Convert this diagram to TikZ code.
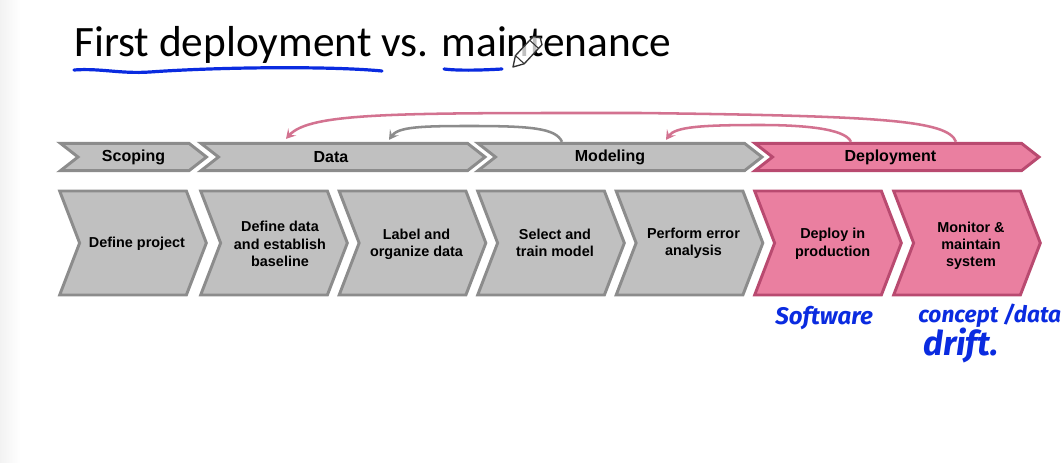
\documentclass[tikz,border=0pt]{standalone}
\usepackage{fontspec}
\setmainfont{Liberation Sans}
\newfontfamily\titlefont{Carlito}
\newfontfamily\handfont{Fira Sans}
\usetikzlibrary{arrows.meta, calc, shapes.symbols}
\definecolor{grayfill}{HTML}{c0c0c0}
\definecolor{grayline}{HTML}{8c8c8c}
\definecolor{pinkfill}{HTML}{ea7fa0}
\definecolor{pinkline}{HTML}{b94a70}
\definecolor{inkblue}{HTML}{0a2be0}

\begin{document}
\begin{tikzpicture}[x=0.75pt,y=-0.75pt,
    band/.style={signal, signal from=west, signal to=east, signal pointer angle=76, draw=grayline, fill=grayfill, line width=2.2pt, minimum height=20.5pt, inner sep=0pt, font=\fontsize{12}{14}\bfseries},
    stage/.style={signal, signal from=west, signal to=east, signal pointer angle=138, draw=grayline, fill=grayfill, line width=2.2pt, minimum height=78pt, inner sep=0pt, minimum width=110pt},
    deploy/.style={draw=pinkline, fill=pinkfill},
    bandtext/.style={font=\fontsize{12}{14}\bfseries},
    caption/.style={align=center, font=\fontsize{10.8}{13}\bfseries},
    back/.style={line width=1.9pt, -{Stealth[length=7pt,width=8pt,inset=3pt]}},
    hand/.style={inkblue, anchor=base west, inner sep=0pt, font=\handfont\bfseries\itshape\fontsize{18}{20}\selectfont},
    stroke/.style={inkblue, line width=2.4pt, line cap=round}]
    \useasboundingbox (0,0) rectangle (1064,463);
    \fill[white] (0,0) rectangle (1064,463);
    \shade[left color=black!5, right color=white] (0,0) rectangle (20,463);

    \node[font=\titlefont\fontsize{32.5}{36}\selectfont, anchor=base west, inner sep=0pt] (title) at (74,57) {First deployment vs. maintenance};
    \draw[stroke] (74,70) .. controls (100,68) and (120,74) .. (150,72) .. controls (220,67) and (330,66) .. (382,71);
    \draw[stroke] (444,69) .. controls (460,71) and (485,70) .. (502,69);

    % phase bands
    \node[band, minimum width=109.5pt] (scoping) at (133.5,157) {Scoping};
    \node[band, minimum width=213pt, label={[bandtext, xshift=-9pt]center:Data}] (data) at (343,157) {};
    \node[band, minimum width=213pt, label={[bandtext, xshift=-7.5pt]center:Modeling}] (modeling) at (620,157) {};
    \node[band, deploy, minimum width=213pt, label={[bandtext, xshift=-5pt]center:Deployment}] (deployment) at (897,157) {};

    % stages
    \node[stage, label={[caption, xshift=3pt, yshift=-0.7pt]center:Define project}] (project) at (133,243) {};
    \node[stage, label={[caption, xshift=4.5pt, yshift=-0.7pt]center:Define data\\and establish\\baseline}] (baseline) at (274,243) {};
    \node[stage, label={[caption, xshift=3pt, yshift=-1pt]center:Label and\\organize data}] (label) at (412.5,243) {};
    \node[stage, label={[caption, xshift=3pt]center:Select and\\train model}] (train) at (551,243) {};
    \node[stage, label={[caption, xshift=3pt]center:Perform error\\analysis}] (errors) at (689.5,243) {};
    \node[stage, deploy, label={[caption, xshift=3.5pt, yshift=-0.5pt]center:Deploy in\\production}] (production) at (828,243) {};
    \node[stage, deploy, label={[caption, xshift=3pt, yshift=-2pt]center:Monitor \&\\maintain\\system}] (monitor) at (967,243) {};

    % loops back
    \draw[back, pinkfill!90!black] ($(deployment.north)+(59,0)$) .. controls (948,120) and (880,116) .. (640,113) .. controls (400,113) and (310,112) .. ($(data.north)+(-57,-3)$);
    \draw[back, grayline] ($(modeling.north)+(-58,0)$) .. controls (556,128) and (530,126) .. (470,126) .. controls (420,126) and (398,127) .. ($(data.north)+(46,-2)$);
    \draw[back, pinkfill!90!black] ($(deployment.north)+(-46,0)$) .. controls (845,128) and (800,125) .. (760,125) .. controls (700,125) and (675,127) .. ($(modeling.north)+(46,-2)$);

    % notes
    \node[hand] (software) at (775,325) {Software};
    \node[hand, font=\handfont\bfseries\itshape\fontsize{17}{19}\selectfont] (concept) at (918,323) {concept /data};
    \node[hand, font=\handfont\bfseries\itshape\fontsize{25.5}{28}\selectfont] (drift) at (923,355) {drift.};

    % pen cursor
    \begin{scope}[shift={(513,67)}, rotate=47]
      \draw[black!80, fill=white, fill opacity=0.75, line width=1pt, line join=round] (0,0) -- (10,-6) -- (36,-6) -- (40,0) -- (36,6) -- (10,6) -- cycle;
      \draw[black!80, line width=0.8pt] (10,-6) -- (10,6) (31,-6) -- (31,6);
    \end{scope}
\end{tikzpicture}
\end{document}
